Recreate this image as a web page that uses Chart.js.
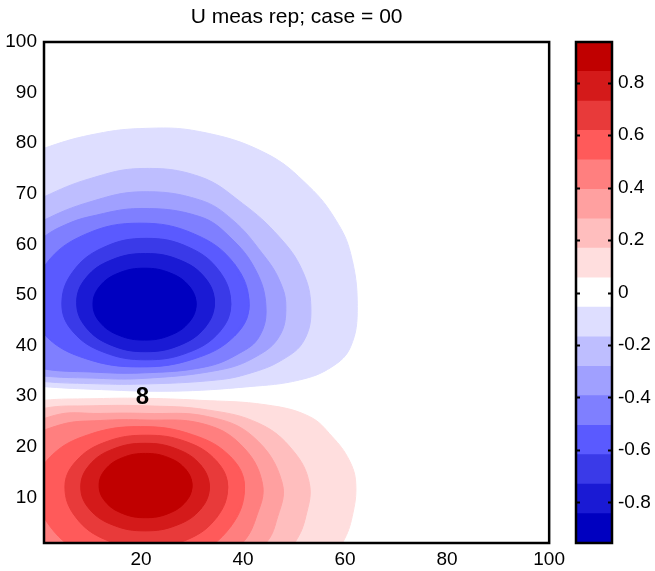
<!DOCTYPE html>
<html>
<head>
<meta charset="utf-8">
<script src="https://cdn.jsdelivr.net/npm/chart.js@4.4.0/dist/chart.umd.min.js"></script>
<style>
  html, body { margin: 0; padding: 0; background: #fff; }
  #wrap { position: relative; width: 655px; height: 571px; }
  #main { position: absolute; left: 0; top: 0; }
  #bar { position: absolute; left: 560px; top: 0; }
</style>
</head>
<body>
<div id="wrap">
  <canvas id="main" width="570" height="571"></canvas>
  <canvas id="bar" width="95" height="571"></canvas>
</div>
<script>
const TITLE = 'U meas rep; case = 00';
const xTicks = [20, 40, 60, 80, 100];
const yTicks = [10, 20, 30, 40, 50, 60, 70, 80, 90, 100];
const cbTicks = [-0.8, -0.6, -0.4, -0.2, 0, 0.2, 0.4, 0.6, 0.8];

// contour band edges (colorbar), bottom to top
const levelEdges = [-0.955, -0.843, -0.730, -0.618, -0.506, -0.393, -0.281, -0.169, -0.056,
  0.056, 0.169, 0.281, 0.393, 0.506, 0.618, 0.730, 0.843, 0.955];
const bandColors = ['#0000c0', '#1a1ad4', '#3a3ae8', '#5a5aff', '#7f7fff', '#a0a0ff', '#bebeff', '#dedeff',
  '#ffffff', '#ffdede', '#ffbebe', '#ffa0a0', '#ff7f7f', '#ff5a5a', '#e83a3a', '#d41a1a', '#c00000'];

// negative lobe: closed contour lines (x, y), outer level -0.06 first, inner -0.84 last
const negContours = [
  [[-11,55],[-9,68],[-5,76.5],[1,79],[10,81.6],[20,82.9],[31.5,82.3],[44.5,78],[53,71.4],[58.2,64.8],[61.1,58.2],[62.4,47.7],[61.1,39.8],[57.4,35.8],[51,33.2],[41.2,31.9],[26,31.0],[10,31.4],[1,31.9],[-5,32.5],[-9,40],[-11,55]],
  [[-11,52],[-8,62],[-4,66.5],[1,69.4],[10,73],[20,75],[31.5,73.4],[39.9,68.1],[47.1,61.5],[51.6,54.9],[53.3,47.7],[52,41.1],[47.7,37.2],[41.2,34.5],[34.7,33.2],[20,32.4],[10,32.5],[1,32.9],[-5,33.8],[-9,40],[-11,52]],
  [[-9,50],[-6,58],[-3,62],[1,64.8],[10,68.4],[20,70.4],[31.5,68.8],[38,64.8],[43.8,58.2],[47.1,53],[48.4,47.7],[47.1,41.8],[42.5,37.8],[35.4,35.2],[20,33.5],[10,33.6],[1,34.0],[-4,35],[-8,40],[-9,50]],
  [[-6,48],[-4,55],[-2,58.5],[1,61.5],[5,63.8],[10,65.5],[20,67.1],[31.5,65.5],[37.4,61.5],[42.5,54.9],[44.5,47.7],[43.2,41.8],[39.3,38.5],[32.6,35.8],[20,34.6],[10,34.8],[1,35.4],[-3,37],[-5,41],[-6,48]],
  [[41.2,48],[38.35,56.1],[30.53,62.03],[19.85,64.2],[9.17,62.03],[1.35,56.1],[-1.5,48],[1.35,41.9],[9.17,37.43],[19.85,35.8],[30.53,37.43],[38.35,41.9],[41.2,48]],
  [[37.6,48.2],[35.38,54.7],[29.33,59.46],[21.05,61.2],[12.77,59.46],[6.72,54.7],[4.5,48.2],[6.72,42.7],[12.77,38.67],[21.05,37.2],[29.33,38.67],[35.38,42.7],[37.6,48.2]],
  [[34.4,48.5],[32.6,53.35],[27.65,56.9],[20.9,58.2],[14.15,56.9],[9.2,53.35],[7.4,48.5],[9.2,43.65],[14.15,40.1],[20.9,38.8],[27.65,40.1],[32.6,43.65],[34.4,48.5]],
  [[30.8,48.2],[29.45,51.75],[25.75,54.35],[20.7,55.3],[15.65,54.35],[11.95,51.75],[10.6,48.2],[11.95,44.65],[15.65,42.05],[20.7,41.1],[25.75,42.05],[29.45,44.65],[30.8,48.2]]
];

// positive lobe: outer level 0.06 first, inner 0.84 last
const posContours = [
  [[-10,12],[-6,28],[1,29.2],[10,29.5],[20,29.6],[31.5,29.2],[44.5,28.3],[53,26.0],[57.5,22],[60.8,17.4],[62.1,12.8],[61.4,6.2],[59.6,1.2],[56,-4],[30,-10],[0,-8],[-8,0],[-10,12]],
  [[-9,12],[-6,25],[1,27.6],[10,28.1],[21,28.1],[33,27.3],[43.2,24.6],[49.7,19.4],[53,12.8],[52.3,6.2],[50.3,1.3],[46,-4],[20,-9],[-3,-7],[-8,2],[-9,12]],
  [[-6,12],[-4,22],[3,26.2],[12,26.6],[21,26.6],[33,26],[42,22],[47.7,12.8],[46.5,5.2],[44.5,1],[38,-5],[18,-8],[0,-6],[-5,2],[-6,12]],
  [[-3,12],[-1.5,21],[4,24.3],[12,25.2],[21,25.3],[32,24.6],[39.5,20.5],[43.8,12.8],[42.5,5.8],[39.9,1],[34,-4],[18,-6],[3,-4],[-2,3],[-3,12]],
  [[40.3,12.05],[37.57,18.03],[30.1,22.4],[19.9,24.0],[9.7,22.4],[2.23,18.03],[-0.5,12.05],[2.23,4.2],[9.7,-1.55],[19.9,-3.65],[30.1,-1.55],[37.57,4.2],[40.3,12.05]],
  [[37,12.05],[34.85,17.15],[29.05,20.95],[21.05,22.3],[13.05,20.95],[7.25,17.15],[5.1,12.05],[7.25,6.05],[13.05,1.65],[21.05,0.05],[29.05,1.65],[34.85,6.05],[37,12.05]],
  [[33.4,12.05],[31.7,16.4],[27.1,19.55],[20.8,20.7],[14.5,19.55],[9.9,16.4],[8.2,12.05],[9.9,7.7],[14.5,4.55],[20.8,3.4],[27.1,4.55],[31.7,7.7],[33.4,12.05]],
  [[30.0,12.35],[28.8,15.5],[25.45,17.85],[20.9,18.7],[16.35,17.85],[13.0,15.5],[11.8,12.35],[13.0,9.2],[16.35,6.85],[20.9,6.0],[25.45,6.85],[28.8,9.2],[30.0,12.35]]
];

const contourLabels = [{ x: 20.3, y: 29.8, text: '8' }];

const FONT = 'Liberation Sans, Arial, Helvetica, sans-serif';
Chart.defaults.font.family = FONT;
Chart.defaults.color = '#000';

// closed loop: pad with the neighbours of the seam so the spline stays smooth there
function contourSet(points, color, order) {
  const n = points.length;
  const loop = [points[n - 2], ...points, points[1]];
  return {
    data: loop.map(p => ({ x: p[0], y: p[1] })),
    fill: 'shape',
    tension: 0.4,
    backgroundColor: color,
    borderColor: color,
    borderWidth: 1,
    pointRadius: 0,
    order: order
  };
}

const datasets = [];
negContours.forEach((pts, i) => datasets.push(contourSet(pts, bandColors[7 - i], 20 - i)));
posContours.forEach((pts, i) => datasets.push(contourSet(pts, bandColors[9 + i], 20 - i)));

const frame = {
  id: 'frame',
  afterDatasetsDraw(chart) {
    const { ctx, chartArea: a, scales } = chart;
    ctx.save();
    ctx.fillStyle = '#000';
    ctx.font = 'bold 24px ' + FONT;
    ctx.textAlign = 'center';
    ctx.textBaseline = 'middle';
    contourLabels.forEach(l => {
      ctx.fillText(l.text, scales.x.getPixelForValue(l.x), scales.y.getPixelForValue(l.y));
    });
    ctx.strokeStyle = '#000';
    ctx.lineWidth = 2.5;
    ctx.strokeRect(a.left, a.top, a.right - a.left, a.bottom - a.top);
    ctx.restore();
  }
};

new Chart(document.getElementById('main'), {
  type: 'line',
  data: { datasets: datasets },
  options: {
    responsive: false,
    animation: false,
    events: [],
    layout: { padding: { left: 0, right: 19, top: 0, bottom: 0 } },
    elements: { line: { tension: 0.4, capBezierPoints: false } },
    plugins: { legend: { display: false }, tooltip: { enabled: false } },
    scales: {
      x: {
        type: 'linear', position: 'bottom', min: 1, max: 100,
        afterBuildTicks: s => { s.ticks = xTicks.map(v => ({ value: v })); },
        afterFit: s => { s.height = 28; },
        grid: { display: false, drawTicks: false }, border: { display: false },
        ticks: { font: { size: 19 }, padding: 5, maxRotation: 0, autoSkip: false, callback: v => String(v) }
      },
      xTop: {
        type: 'linear', position: 'top', min: 1, max: 100,
        afterFit: s => { s.height = 42; },
        grid: { display: false, drawTicks: false }, border: { display: false },
        ticks: { display: false },
        title: { display: true, text: TITLE, font: { size: 21 }, padding: { top: 5, bottom: 0 } }
      },
      y: {
        type: 'linear', min: 1, max: 100,
        afterBuildTicks: s => { s.ticks = yTicks.map(v => ({ value: v })); },
        afterFit: s => { s.width = 44; },
        grid: { display: false, drawTicks: false }, border: { display: false },
        ticks: { font: { size: 19 }, padding: 7, autoSkip: false, callback: v => String(v) }
      }
    }
  },
  plugins: [frame]
});

const barFrame = {
  id: 'barFrame',
  afterDraw(chart) {
    const { ctx, chartArea: a, scales } = chart;
    ctx.save();
    ctx.strokeStyle = '#000';
    ctx.lineWidth = 2;
    cbTicks.forEach(v => {
      const y = Math.round(scales.y.getPixelForValue(v)) + 0.5;
      ctx.beginPath();
      ctx.moveTo(a.left, y); ctx.lineTo(a.left + 4, y);
      ctx.moveTo(a.right - 4, y); ctx.lineTo(a.right, y);
      ctx.stroke();
    });
    ctx.lineWidth = 2.5;
    ctx.strokeRect(a.left, a.top, a.right - a.left, a.bottom - a.top);
    ctx.restore();
  }
};

new Chart(document.getElementById('bar'), {
  type: 'bar',
  data: {
    labels: [''],
    datasets: bandColors.map((c, i) => ({
      data: [[levelEdges[i], levelEdges[i + 1]]],
      backgroundColor: c,
      borderWidth: 0,
      barPercentage: 1,
      categoryPercentage: 1,
      grouped: false
    }))
  },
  options: {
    responsive: false,
    animation: false,
    events: [],
    layout: { padding: { left: 16, right: 0, top: 42, bottom: 28 } },
    plugins: { legend: { display: false }, tooltip: { enabled: false } },
    scales: {
      x: { display: false },
      y: {
        position: 'right', min: levelEdges[0], max: levelEdges[levelEdges.length - 1],
        afterBuildTicks: s => { s.ticks = cbTicks.map(v => ({ value: v })); },
        afterFit: s => { s.width = 43; },
        grid: { display: false, drawTicks: false }, border: { display: false },
        ticks: { font: { size: 19 }, padding: 6, autoSkip: false, callback: v => String(v) }
      }
    }
  },
  plugins: [barFrame]
});
</script>
</body>
</html>
